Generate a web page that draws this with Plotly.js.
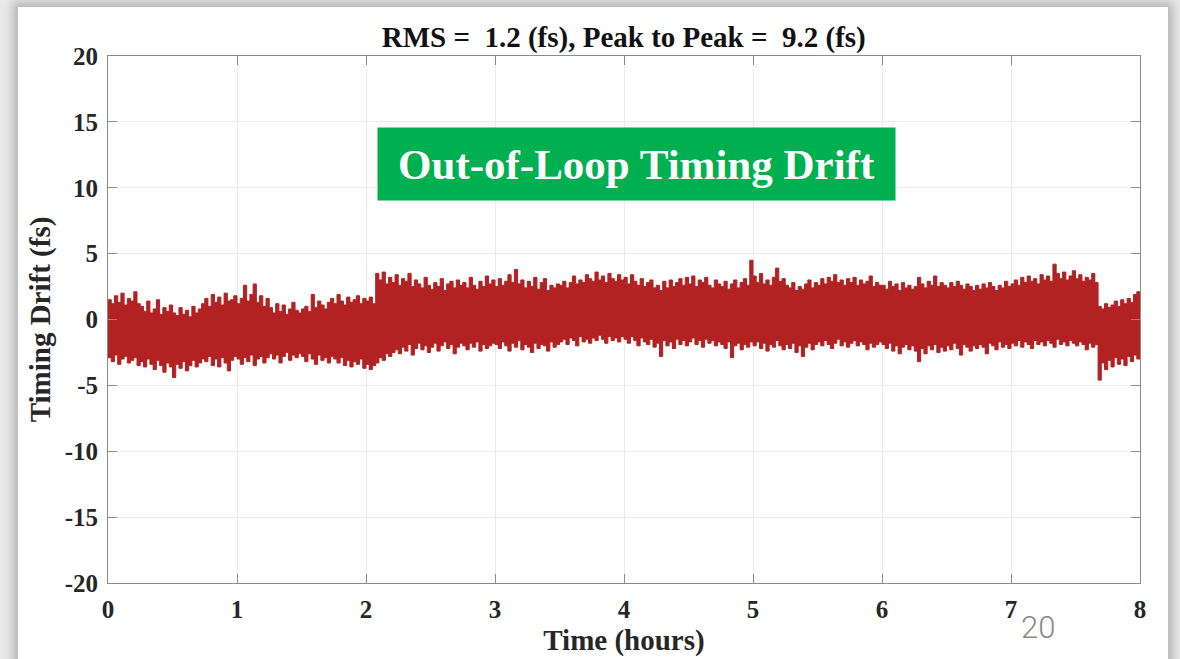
<!DOCTYPE html>
<html>
<head>
<meta charset="utf-8">
<script src="https://cdn.plot.ly/plotly-3.0.1.min.js"></script>
<style>
  html, body { margin:0; padding:0; width:1180px; height:659px; overflow:hidden; background:#e9e9e9; }
  #slide { position:absolute; left:18px; top:7px; width:1150px; height:700px; background:#ffffff;
           box-shadow: 0 0 9px 5px rgba(0,0,0,0.22); }
  #chart { position:absolute; left:0; top:0; width:1180px; height:659px; }
</style>
</head>
<body>
<div id="slide"></div>
<div id="chart"></div>
<script>
// sampling interval of the envelope readings (hours)
const dtHours = 0.025;

// upper envelope of the timing drift (fs), every 0.025 h
const upperDrift = [
  1.5, 1.2, 1.8, 1.3, 2.0, 1.1, 1.6, 1.4, 2.1, 1.2,
  1.0, 0.6, 1.4, 0.5, 0.8, 1.5, 0.4, 0.9, 0.6, 1.1,
  0.5, 0.3, 0.9, 0.4, 0.7, 0.2, 1.0, 0.5, 0.8, 1.2,
  1.6, 1.0, 1.9, 1.3, 1.7, 1.1, 2.0, 1.4, 1.5, 1.8,
  1.2, 1.6, 2.6, 1.4, 1.9, 2.7, 1.3, 1.8, 1.0, 1.6,
  0.9, 0.5, 1.2, 0.6, 1.1, 0.4, 0.8, 1.3, 0.7, 0.5,
  0.8, 1.0, 0.6, 1.9, 0.9, 1.4, 1.1, 0.8, 1.3, 1.6,
  1.2, 1.9, 1.4, 1.1, 1.7, 1.3, 1.5, 1.8, 1.2, 1.6,
  1.4, 1.7, 1.2, 3.5, 3.0, 3.6, 2.7, 3.2, 2.8, 3.4,
  2.6, 3.1, 2.9, 3.5, 2.5, 3.0, 2.7, 2.4, 3.2, 2.6,
  2.3, 2.8, 2.5, 3.1, 2.2, 2.7, 2.9, 2.4, 3.0, 2.6,
  2.8, 2.4, 3.2, 2.6, 2.3, 2.9, 2.5, 3.3, 2.7, 3.0,
  2.5, 3.1, 2.6, 2.9, 3.4, 2.8, 3.8, 2.7, 3.0, 2.4,
  2.9, 2.5, 3.2, 2.3, 2.8, 3.1, 2.2, 2.6, 2.4, 2.7,
  2.6, 2.9, 2.4, 2.8, 3.3, 2.7, 3.0, 2.8, 3.4, 3.1,
  2.9, 3.6, 3.0, 3.3, 2.8, 3.5, 3.1, 2.9, 3.4, 3.0,
  3.2, 2.7, 3.4, 2.9, 2.6, 3.1, 2.5, 2.8, 3.0, 2.4,
  2.6, 2.2, 2.9, 2.4, 3.0, 2.5, 2.8, 3.1, 2.6, 3.2,
  2.7, 3.3, 2.5, 3.0, 2.8, 3.2, 2.6, 2.4, 3.0, 2.7,
  2.5, 2.9, 2.3, 2.7, 3.0, 2.4, 2.8, 3.1, 2.6, 4.5,
  3.3, 2.8, 3.5, 2.7, 3.0, 2.6, 3.2, 3.9, 2.9, 3.1,
  2.6, 2.4, 2.8, 2.2, 2.5, 2.3, 2.7, 3.0, 2.4, 2.8,
  2.6, 3.1, 2.7, 3.2, 2.9, 3.4, 2.8, 3.0, 2.6, 3.1,
  2.8, 3.2, 2.6, 3.0, 2.7, 2.9, 3.3, 2.5, 2.8, 2.6,
  2.6, 2.3, 2.9, 2.5, 2.7, 2.2, 2.8, 2.4, 2.6, 2.3,
  2.5, 3.2, 2.7, 2.4, 2.9, 2.6, 3.3, 2.5, 2.8, 2.6,
  2.4, 2.8, 2.5, 2.9, 2.6, 2.3, 2.7, 2.5, 2.2, 2.6,
  2.3, 2.7, 2.4, 2.8, 2.5, 2.2, 2.6, 2.4, 2.9, 2.5,
  2.7, 3.0, 2.6, 3.2, 2.8, 3.3, 2.9, 3.1, 2.7, 3.4,
  3.0, 3.3, 2.9, 4.2, 3.5, 3.1, 3.6, 3.0, 3.3, 3.7,
  3.1, 3.4, 2.9, 3.2, 3.0, 3.5, 2.8, 1.0, 0.8, 1.2,
  0.9, 1.1, 1.4, 1.0, 1.5, 1.2, 1.6, 1.3, 1.9, 2.1,
  1.8
];

// lower envelope of the timing drift (fs), every 0.025 h
const lowerDrift = [
  -2.9, -3.2, -2.7, -3.4, -3.0, -2.8, -3.3, -3.1, -2.9, -3.5,
  -3.2, -3.6, -3.0, -3.4, -3.8, -3.1, -3.5, -4.0, -3.3, -3.6,
  -4.4, -3.4, -3.7, -3.2, -3.9, -3.5, -3.1, -3.6, -3.3, -3.0,
  -3.2, -2.8, -3.5, -3.0, -3.6, -2.9, -3.3, -3.9, -3.1, -2.8,
  -3.0, -3.4, -2.9, -3.2, -2.7, -3.5, -3.0, -2.8, -3.3, -2.9,
  -2.6, -3.0, -2.7, -3.3, -2.8, -2.5, -3.1, -2.7, -2.9, -2.6,
  -2.8, -3.2, -2.6, -3.0, -3.4, -2.7, -3.1, -2.9, -3.3, -2.8,
  -3.0, -3.3, -2.9, -3.5, -3.1, -3.6, -3.2, -3.4, -3.0, -3.7,
  -3.4, -3.8, -3.5, -3.3, -2.9, -3.1, -2.6, -2.8, -2.5, -2.3,
  -2.6, -2.1, -2.4, -1.9, -2.7, -2.2, -1.8, -2.3, -2.0, -2.5,
  -2.1, -1.8, -2.4, -2.0, -1.7, -2.2, -1.9, -2.6, -2.1, -1.8,
  -2.0, -2.3, -1.8, -2.1, -1.7, -2.4, -1.9, -2.2, -2.0, -1.8,
  -1.9, -2.2, -1.7, -2.0, -2.4, -1.8, -2.1, -1.6, -2.3, -1.9,
  -2.1, -2.5, -1.8, -2.2, -1.9, -2.0, -2.4, -1.7, -2.1, -1.9,
  -1.7, -1.5, -1.9, -1.4, -1.6, -2.0, -1.3, -1.7, -1.5, -1.8,
  -1.4, -1.6, -1.2, -1.5, -1.8, -1.3, -1.6, -1.4, -1.7, -1.3,
  -1.5, -1.8, -1.3, -1.6, -2.0, -1.4, -1.7, -1.9, -1.5, -2.1,
  -1.8, -2.8, -1.6, -2.0, -1.7, -2.2, -1.5, -1.9, -1.6, -2.0,
  -1.7, -1.4, -1.9, -1.6, -2.1, -1.5, -1.8, -1.6, -2.0, -1.7,
  -1.9, -2.2, -1.7, -2.9, -2.0, -1.8, -2.3, -1.9, -2.1, -1.7,
  -2.0, -1.7, -2.2, -1.8, -2.4, -1.9, -2.1, -1.6, -2.0, -2.3,
  -1.9, -2.2, -1.8, -2.5, -2.0, -2.8, -2.1, -1.8, -2.3, -1.9,
  -1.7, -2.0, -1.6, -1.9, -2.2, -1.8, -1.5, -2.0, -1.7, -2.1,
  -1.8, -1.6, -2.0, -1.7, -1.9, -2.3, -1.8, -2.1, -1.9, -1.7,
  -1.9, -2.2, -1.8, -2.4, -2.0, -2.6, -2.1, -1.9, -2.3, -2.0,
  -2.4, -3.2, -2.2, -2.6, -2.0, -2.3, -1.9, -2.5, -2.1, -2.4,
  -2.0, -2.3, -1.8, -2.2, -2.7, -1.9, -2.1, -2.4, -2.0, -2.2,
  -1.9, -2.1, -2.6, -1.8, -2.0, -2.3, -1.7, -2.1, -1.9, -2.2,
  -1.8, -2.0, -1.6, -2.1, -1.7, -1.9, -2.2, -1.6, -1.9, -1.7,
  -2.0, -1.6, -1.8, -2.1, -1.5, -1.9, -1.7, -2.0, -1.6, -1.8,
  -2.0, -1.7, -1.9, -2.3, -1.8, -2.1, -1.9, -4.6, -3.3, -3.8,
  -3.1, -3.6, -2.9, -3.4, -3.0, -3.5, -2.8, -3.2, -2.7, -3.0,
  -2.9
];

const xTickVals = [0, 1, 2, 3, 4, 5, 6, 7, 8];
const xTickLabels = ['0', '1', '2', '3', '4', '5', '6', '7', '8'];
const yTickVals = [-20, -15, -10, -5, 0, 5, 10, 15, 20];
const yTickLabels = ['-20', '-15', '-10', '-5', '0', '5', '10', '15', '20'];

const chartTitle = 'RMS =\u00a0\u00a01.2 (fs), Peak to Peak =\u00a0\u00a09.2 (fs)';
const xTitle = 'Time (hours)';
const yTitle = 'Timing Drift (fs)';
const boxLabel = 'Out-of-Loop Timing Drift';
const pageNumber = '20';

const timeHours = upperDrift.map((_, i) => +(i * dtHours).toFixed(4));
const red = 'rgb(178,34,34)';
const serif = 'Liberation Serif, Times New Roman, serif';

const traces = [
  { x: timeHours, y: lowerDrift, type: 'scatter', mode: 'lines',
    line: { color: red, width: 1, shape: 'hv' }, hoverinfo: 'skip', showlegend: false },
  { x: timeHours, y: upperDrift, type: 'scatter', mode: 'lines', fill: 'tonexty',
    fillcolor: red, line: { color: red, width: 1, shape: 'hv' }, hoverinfo: 'skip', showlegend: false }
];

const axisCommon = {
  showgrid: true, gridcolor: '#ebebeb', gridwidth: 1,
  showline: true, linecolor: '#8c8c8c', linewidth: 1, mirror: 'ticks',
  ticks: 'inside', ticklen: 9, tickcolor: '#8c8c8c', tickwidth: 1,
  zeroline: false, fixedrange: true,
  tickfont: { family: serif, size: 25, color: '#262626', weight: 700 }
};

const layout = {
  width: 1180, height: 659,
  margin: { l: 108, r: 40, t: 56, b: 76 },
  paper_bgcolor: 'rgba(0,0,0,0)', plot_bgcolor: '#ffffff',
  title: { text: chartTitle, x: 0.5286, xanchor: 'center', y: 0.9435, yanchor: 'middle',
           font: { family: serif, size: 29, color: '#111111', weight: 700 } },
  xaxis: Object.assign({}, axisCommon, {
    range: [0, 8], tickvals: xTickVals, ticktext: xTickLabels,
    ticklabelstandoff: 4,
    title: { text: xTitle, standoff: 7, font: { family: serif, size: 29, color: '#262626', weight: 700 } }
  }),
  yaxis: Object.assign({}, axisCommon, {
    range: [-20, 20], tickvals: yTickVals, ticktext: yTickLabels,
    ticklabelstandoff: 4,
    title: { text: yTitle, standoff: 5, font: { family: serif, size: 29, color: '#262626', weight: 700 } }
  }),
  annotations: [
    { text: boxLabel, xref: 'x', yref: 'y', x: 4.097, y: 11.8, showarrow: false,
      xanchor: 'center', yanchor: 'middle', width: 517, height: 72,
      bgcolor: '#00b050', borderpad: 0,
      font: { family: serif, size: 43, color: '#ffffff', weight: 700 } },
    { text: pageNumber, xref: 'paper', yref: 'paper', x: 0.901, y: -0.0835, showarrow: false,
      xanchor: 'center', yanchor: 'middle',
      font: { family: 'Roboto', size: 31, color: '#8a8a8a', weight: 300 } }
  ]
};

Plotly.newPlot('chart', traces, layout, { staticPlot: true, displayModeBar: false });
</script>
</body>
</html>
